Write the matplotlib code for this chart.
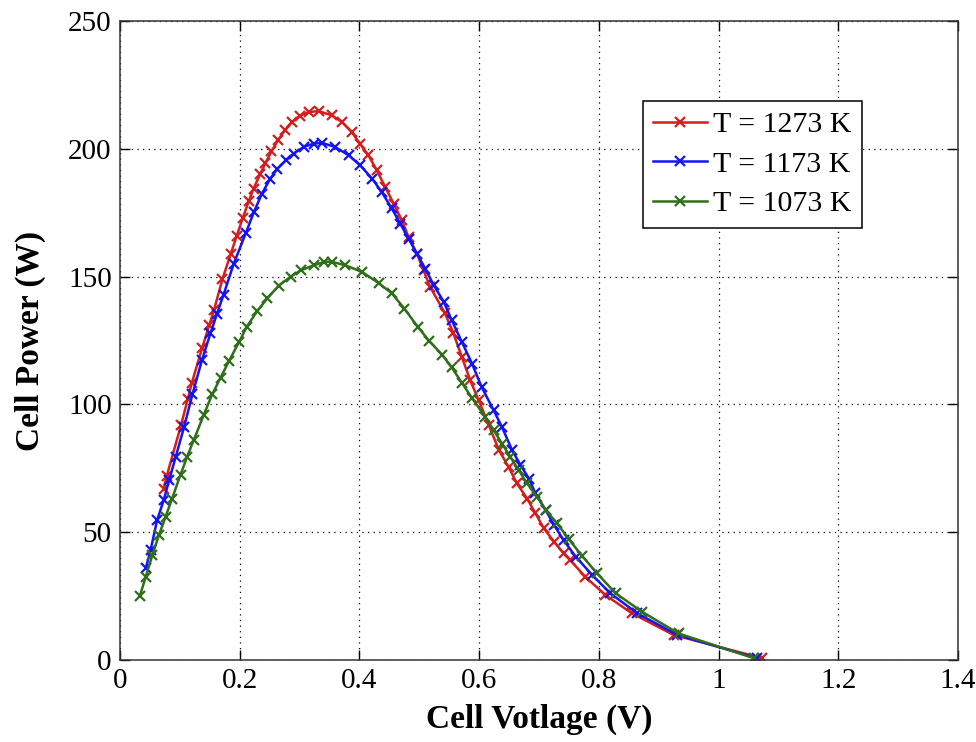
import numpy as np
import matplotlib
matplotlib.use('Agg')
import matplotlib.pyplot as plt
from matplotlib.ticker import FormatStrFormatter, MultipleLocator

## -- data (cell voltage V, cell power W)
v_1273 = [0.073, 0.078, 0.102, 0.113, 0.120, 0.137, 0.149, 0.157, 0.171, 0.185,
          0.195, 0.205, 0.215, 0.223, 0.234, 0.243, 0.253, 0.264, 0.276, 0.287,
          0.301, 0.315, 0.332, 0.354, 0.371, 0.387, 0.401, 0.415, 0.429, 0.443,
          0.457, 0.471, 0.482, 0.496, 0.507, 0.518, 0.543, 0.557, 0.571, 0.585,
          0.599, 0.616, 0.633, 0.649, 0.663, 0.680, 0.694, 0.708, 0.725, 0.741,
          0.752, 0.777, 0.811, 0.855, 0.925, 1.073]
p_1273 = [67, 72, 92, 102, 108.5, 122, 131, 137, 149, 159,
          166, 173, 179.5, 184.5, 190, 194.5, 199, 203.5, 207.5, 210.5,
          213, 214.4, 214.8, 213.1, 210.5, 206.6, 202, 197.5, 191.6, 185.1,
          178.6, 172, 165.5, 159, 152.5, 146, 135.6, 127.8, 118.6, 109.5,
          101.7, 92, 82.1, 75.6, 69.1, 63.2, 57.4, 51.5, 46.3, 41.7,
          39.1, 32.6, 25.4, 18.3, 9.8, 0.7]

v_1173 = [0.043, 0.051, 0.062, 0.073, 0.082, 0.093, 0.107, 0.121, 0.137, 0.151,
          0.162, 0.173, 0.190, 0.210, 0.224, 0.237, 0.251, 0.263, 0.277, 0.290,
          0.307, 0.324, 0.338, 0.359, 0.382, 0.401, 0.421, 0.437, 0.454, 0.468,
          0.482, 0.496, 0.510, 0.524, 0.541, 0.554, 0.571, 0.588, 0.604, 0.624,
          0.638, 0.655, 0.669, 0.683, 0.694, 0.711, 0.725, 0.741, 0.761, 0.789,
          0.819, 0.864, 0.931, 1.064]
p_1173 = [35.9, 43, 54.8, 62.6, 70.4, 79.5, 91.2, 104, 117.5, 127.8,
          135.5, 143, 155.1, 167, 175.5, 182.5, 188.4, 192.3, 195.5, 198.2,
          200.8, 202.1, 202.3, 200.8, 197.5, 193.6, 188.4, 183.2, 176.7, 170.8,
          164.9, 159, 153.1, 146.7, 140.1, 133, 124.5, 116, 106.9, 97.8,
          91.2, 82.1, 76.3, 71, 65.2, 58.7, 52.8, 46.9, 40.5, 33.2,
          26.1, 18.3, 9.8, 0.7]

v_1073 = [0.033, 0.043, 0.054, 0.065, 0.076, 0.087, 0.101, 0.112, 0.123, 0.140,
          0.154, 0.168, 0.182, 0.199, 0.212, 0.229, 0.246, 0.265, 0.285, 0.302,
          0.324, 0.341, 0.354, 0.376, 0.404, 0.432, 0.454, 0.475, 0.497, 0.516,
          0.538, 0.554, 0.571, 0.588, 0.610, 0.624, 0.638, 0.652, 0.666, 0.680,
          0.697, 0.711, 0.730, 0.750, 0.772, 0.797, 0.828, 0.872, 0.933, 1.059]
p_1073 = [25, 32.6, 41.1, 48.9, 56, 63.2, 72.5, 79.5, 86, 96,
          104, 110.5, 117, 124.5, 130.5, 136.5, 141.5, 146.5, 150, 152.5,
          154.5, 155.8, 155.8, 154.5, 151.9, 147.5, 143.5, 137.5, 130.5, 125,
          119.5, 114.5, 108.5, 102.5, 95.2, 90, 84.7, 79.5, 74.3, 69.1,
          63.9, 58.7, 53.5, 47.2, 40.7, 33.9, 26.1, 18.9, 10.4, 0.7]

labels = ["T = 1273 K", "T = 1173 K", "T = 1073 K"]
colors = ['#d41e1e', '#1414f0', '#2f6e1a']

plt.rcParams['font.family'] = ['Liberation Serif', 'DejaVu Serif']

fig = plt.figure(figsize=(9.76, 7.42), dpi=100)
ax = fig.add_axes([0.123, 0.1105, 0.8586, 0.861])

series = [(v_1273, p_1273), (v_1173, p_1173), (v_1073, p_1073)]
for i in range(len(series)):
	v, p = series[i]
	ax.plot(v, p, color=colors[i], linewidth=1.8, marker='x', markersize=7,
	        markeredgewidth=1.6, label=labels[i])

ax.set_xlim(0, 1.4)
ax.set_ylim(0, 250)
ax.xaxis.set_major_locator(MultipleLocator(0.2))
ax.yaxis.set_major_locator(MultipleLocator(50))
ax.xaxis.set_major_formatter(FormatStrFormatter('%g'))

ax.grid(True, color='black', linestyle=(0, (1, 3.5)), linewidth=0.9)
ax.tick_params(direction='in', length=7, width=1, labelsize=21,
               top=True, right=True, pad=6)
for s in ax.spines.values():
	s.set_color('#333333')
	s.set_linewidth(1.1)

ax.set_xlabel("Cell Votlage (V)", fontsize=24, fontweight='bold', labelpad=7)
ax.set_ylabel("Cell Power (W)", fontsize=24, fontweight='bold', labelpad=16)

leg = ax.legend(loc='upper right', bbox_to_anchor=(0.885, 0.875), fontsize=21.5,
                fancybox=False, edgecolor='black', framealpha=1,
                handlelength=1.8, handletextpad=0.2, labelspacing=0.42,
                borderpad=0.35, borderaxespad=0)
leg.get_frame().set_linewidth(1.1)

plt.savefig("out.png", dpi=100)
